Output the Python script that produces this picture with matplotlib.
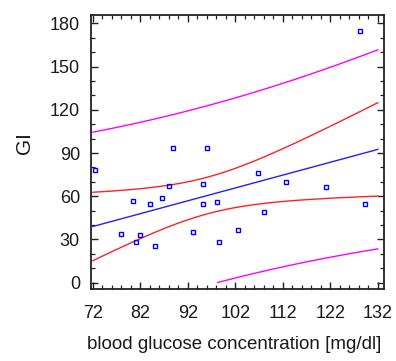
import numpy as np
import matplotlib
matplotlib.use("Agg")
import matplotlib.pyplot as plt
from matplotlib.ticker import MultipleLocator

# Data
glucose = [72.4, 78.0, 80.5, 81.0, 82.0, 84.0, 85.1, 86.6, 88.0, 88.9, 93.0, 95.1,
           95.1, 96.0, 98.1, 98.6, 102.6, 106.7, 108.1, 112.6, 121.0, 128.2, 129.4]
gi = [78.4, 34.0, 56.9, 28.0, 33.1, 54.4, 25.5, 58.6, 67.3, 93.3, 35.0, 68.7,
      54.4, 93.3, 55.8, 28.0, 36.4, 76.3, 49.1, 69.7, 66.6, 174.9, 54.4]
x_ticks = [72, 82, 92, 102, 112, 122, 132]
y_ticks = [0, 30, 60, 90, 120, 150, 180]
t_crit = 2.080  # t(0.975, df=21)

x = np.array(glucose)
y = np.array(gi)
n = len(x)
slope, intercept = np.polyfit(x, y, 1)
resid = y - (intercept + slope * x)
s = np.sqrt(np.sum(resid ** 2) / (n - 2))
sxx = np.sum((x - x.mean()) ** 2)

xs = np.linspace(x_ticks[0], x_ticks[-1], 300)
fit = intercept + slope * xs
se_mean = s * np.sqrt(1.0 / n + (xs - x.mean()) ** 2 / sxx)
se_pred = s * np.sqrt(1.0 + 1.0 / n + (xs - x.mean()) ** 2 / sxx)
ci_lo, ci_hi = fit - t_crit * se_mean, fit + t_crit * se_mean
pi_lo, pi_hi = fit - t_crit * se_pred, fit + t_crit * se_pred
pi_lo = np.where(pi_lo >= 0, pi_lo, np.nan)

plt.rcParams['font.family'] = ['Liberation Sans', 'DejaVu Sans']

fig = plt.figure(figsize=(3.96, 3.61), dpi=100)
ax = fig.add_axes([91 / 396, 1 - 289.3 / 361, (384 - 91) / 396, (289.3 - 15) / 361])

ax.plot(xs, pi_hi, color='#ff00ff', lw=1.0)
ax.plot(xs, pi_lo, color='#ff00ff', lw=1.0)
ax.plot(xs, ci_hi, color='#ff2020', lw=1.0)
ax.plot(xs, ci_lo, color='#ff2020', lw=1.0)
ax.plot(xs, fit, color='#2020ff', lw=1.0)
ax.plot(x, y, linestyle='none', marker='s', markersize=3.2, markerfacecolor='none',
        markeredgecolor='#0000ff', markeredgewidth=1.0)

ax.set_xlim(71.6, 133.3)
ax.set_ylim(-4.6, 185.8)
ax.set_xticks(x_ticks)
ax.set_yticks(y_ticks)
ax.xaxis.set_minor_locator(MultipleLocator(2))
ax.yaxis.set_minor_locator(MultipleLocator(10))
ax.tick_params(which='both', direction='in', top=True, right=True, color='#222222')
ax.tick_params(which='major', length=5, width=1.0, labelsize=13, labelcolor='#1a1a1a')
ax.tick_params(axis='x', which='major', pad=11)
ax.tick_params(axis='y', which='major', pad=8)
ax.tick_params(which='minor', length=3, width=0.9)
for sp in ax.spines.values():
    sp.set_linewidth(1.3)
    sp.set_color('#222222')

ax.set_xlabel('blood glucose concentration [mg/dl]', fontsize=13.5, color='#1a1a1a')
ax.xaxis.set_label_coords(0.488, -0.172)
ax.set_ylabel('GI', fontsize=15, color='#1a1a1a')
ax.yaxis.set_label_coords(-0.195, 0.533)

fig.savefig('out.png', dpi=100, facecolor='white')
